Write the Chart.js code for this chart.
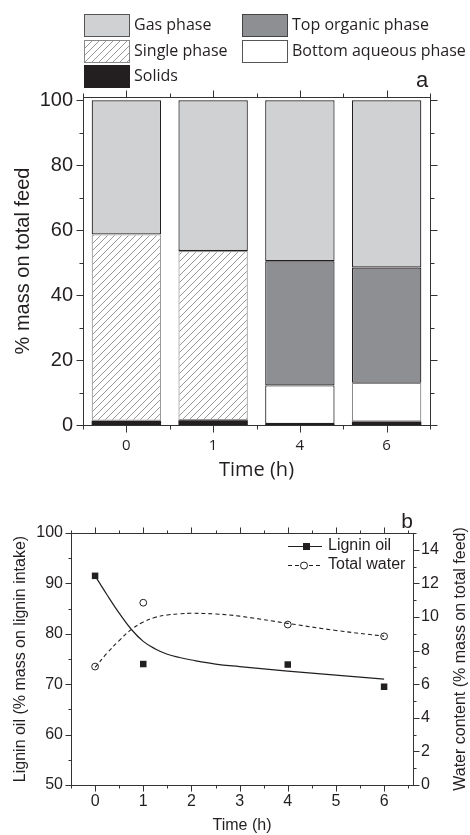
<!DOCTYPE html>
<html><head><meta charset="utf-8">
<script src="https://cdn.jsdelivr.net/npm/chart.js@4"></script>
<style>
html,body{margin:0;padding:0;background:#fff;width:470px;height:835px;overflow:hidden}
#c1{position:absolute;left:0;top:0}
#c2{position:absolute;left:0;top:480px}
</style></head><body>
<canvas id="c1" width="470" height="480"></canvas>
<canvas id="c2" width="470" height="355"></canvas>
<script>
// ---------- Panel a data ----------
const timeCategories = ['0', '1', '4', '6'];
const solids        = [1.3, 1.5, 0.3, 1.1];
const singlePhase   = [57.4, 52.1, null, null];
const bottomAqueous = [null, null, 11.9, 11.9];
const topOrganic    = [null, null, 38.2, 35.5];
const gasPhase      = [41.3, 46.4, 49.6, 51.5];
const yTicksA       = [0, 20, 40, 60, 80, 100];

// ---------- Panel b data ----------
const timeB       = [0, 1, 4, 6];
const ligninOil   = [91.5, 74.0, 73.9, 69.5];
const totalWater  = [7.05, 10.85, 9.55, 8.85];
const fitTime     = [0, 0.25, 0.5, 0.75, 1, 1.25, 1.5, 1.75, 2, 2.5, 3, 4, 5, 6];
const ligninFit   = [91.5, 87.7, 84.1, 80.9, 78.5, 77.0, 75.95, 75.3, 74.8, 74.0, 73.5, 72.6, 71.8, 71.0];
const waterFit    = [7.0, 7.85, 8.6, 9.25, 9.7, 9.98, 10.12, 10.19, 10.22, 10.18, 10.05, 9.62, 9.2, 8.86];
const xTicksB     = [0, 1, 2, 3, 4, 5, 6];
const yTicksBLeft = [50, 60, 70, 80, 90, 100];
const yTicksBRight= [0, 2, 4, 6, 8, 10, 12, 14];

const INK = '#231f20';
const GAS = '#d0d1d3';
const ORG = '#8e8f92';

function makeHatch(ctx){
  const p = document.createElement('canvas'); p.width = 7; p.height = 7;
  const g = p.getContext('2d');
  g.fillStyle = '#fff'; g.fillRect(0,0,7,7);
  g.strokeStyle = '#8c8c8c'; g.lineWidth = 0.9;
  g.beginPath();
  g.moveTo(-1,8); g.lineTo(8,-1);
  g.moveTo(-1,1); g.lineTo(1,-1);
  g.moveTo(6,8); g.lineTo(8,6);
  g.stroke();
  return ctx.createPattern(p,'repeat');
}
const ctx1 = document.getElementById('c1').getContext('2d');
const HATCH = makeHatch(ctx1);

function seg(ctx,x1,y1,x2,y2){ctx.beginPath();ctx.moveTo(x1,y1);ctx.lineTo(x2,y2);ctx.stroke();}

const frameA = {
  id:'frameA',
  afterDraw(chart){
    const {ctx, chartArea:a, scales:{x,y}} = chart;
    ctx.save();
    ctx.strokeStyle = '#333'; ctx.lineWidth = 1;
    const L = Math.round(a.left)+0.5, R = Math.round(a.right)+0.5, T = Math.round(a.top)+0.5, B = Math.round(a.bottom)+0.5;
    ctx.strokeRect(L, T, R-L, B-T);
    for (let i=0;i<yTicksA.length;i++){
      const v = yTicksA[i];
      const py = Math.round(y.getPixelForValue(v))+0.5;
      seg(ctx,L-7,py,L,py); seg(ctx,R,py,R+7,py);
      if (i<yTicksA.length-1){
        const m = (v+yTicksA[i+1])/2;
        const pm = Math.round(y.getPixelForValue(m))+0.5;
        seg(ctx,L-4,pm,L,pm); seg(ctx,R,pm,R+4,pm);
      }
    }
    const n = timeCategories.length;
    for (let i=0;i<n;i++){
      const px = Math.round(x.getPixelForValue(i))+0.5;
      seg(ctx,px,B,px,B+7); seg(ctx,px,T-7,px,T);
    }
    for (let i=0;i<=n;i++){
      const px = Math.round(x.getPixelForValue(i-0.5))+0.5;
      seg(ctx,px,B,px,B+4); seg(ctx,px,T-4,px,T);
    }
    ctx.fillStyle = INK; ctx.font = '22px "Liberation Sans", Arial'; ctx.textAlign='center'; ctx.textBaseline='middle';
    ctx.fillText('a', 422, 81);
    ctx.restore();
  }
};
const legendA = {
  id:'legendA',
  afterDraw(chart){
    const ctx = chart.ctx;
    const items = [
      {t:'Gas phase', fill:GAS, stroke:'#555', x:84, y:14},
      {t:'Single phase', fill:HATCH, stroke:'#888', x:84, y:40},
      {t:'Solids', fill:INK, stroke:INK, x:84, y:65},
      {t:'Top organic phase', fill:ORG, stroke:'#444', x:242, y:14},
      {t:'Bottom aqueous phase', fill:'#fff', stroke:'#555', x:242, y:40}
    ];
    ctx.save();
    ctx.font = '16px "Open Sans"'; ctx.textBaseline='middle'; ctx.textAlign='left';
    for (const it of items){
      ctx.fillStyle = it.fill; ctx.fillRect(it.x, it.y, 45, 22);
      ctx.strokeStyle = it.stroke; ctx.lineWidth=1; ctx.strokeRect(it.x+0.5, it.y+0.5, 45, 22);
      ctx.fillStyle = INK; ctx.fillText(it.t, it.x+50, it.y+11);
    }
    ctx.restore();
  }
};

new Chart(ctx1, {
  type:'bar',
  data:{
    labels: timeCategories,
    datasets:[
      {label:'Solids', data:solids, backgroundColor:INK, borderColor:INK, borderWidth:0},
      {label:'Single phase', data:singlePhase, backgroundColor:HATCH, borderColor:'#9a9a9a', borderWidth:1.2},
      {label:'Bottom aqueous phase', data:bottomAqueous, backgroundColor:'#fff', borderColor:['#000','#000',INK,'#8a8a8a'], borderWidth:1.2},
      {label:'Top organic phase', data:topOrganic, backgroundColor:ORG, borderColor:['#000','#000',INK,INK], borderWidth:1.2},
      {label:'Gas phase', data:gasPhase, backgroundColor:GAS, borderColor:INK, borderWidth:1.2}
    ]
  },
  options:{
    responsive:false, animation:false,
    datasets:{bar:{barPercentage:0.8, categoryPercentage:1.0, borderSkipped:false}},
    layout:{padding:{top:97, right:40, left:0, bottom:0}},
    plugins:{legend:{display:false}, tooltip:{enabled:false}},
    scales:{
      x:{stacked:true,
        grid:{display:false, drawTicks:false}, border:{display:false},
        ticks:{font:{family:'Open Sans', size:15}, color:INK, padding:12},
        title:{display:true, text:'Time (h)', color:INK, font:{family:'Open Sans', size:20, lineHeight:1}, padding:{top:0,bottom:0}},
        afterFit(s){ s.height = 55; }
      },
      y:{stacked:true, min:0, max:101,
        afterBuildTicks(s){ s.ticks = yTicksA.map(v=>({value:v})); },
        grid:{display:false, drawTicks:false}, border:{display:false},
        ticks:{font:{family:'Liberation Sans', size:20}, color:INK, padding:10},
        title:{display:true, text:'% mass on total feed', color:INK, font:{family:'Liberation Sans', size:20, lineHeight:1}, padding:{top:13,bottom:0}},
        afterFit(s){ s.width = 83; }
      }
    }
  },
  plugins:[frameA, legendA]
});

const ctx2 = document.getElementById('c2').getContext('2d');
const frameB = {
  id:'frameB',
  afterDraw(chart){
    const {ctx, chartArea:a, scales:{x,y,y1}} = chart;
    ctx.save();
    ctx.strokeStyle = '#333'; ctx.lineWidth = 1;
    const L = Math.round(a.left)+0.5, R = Math.round(a.right)+0.5, T = Math.round(a.top)+0.5, B = Math.round(a.bottom)+0.5;
    ctx.strokeRect(L, T, R-L, B-T);
    for (let i=0;i<yTicksBLeft.length;i++){
      const v = yTicksBLeft[i];
      const py = Math.round(y.getPixelForValue(v))+0.5;
      seg(ctx,L-6,py,L,py);
      if (i<yTicksBLeft.length-1){
        const pm = Math.round(y.getPixelForValue((v+yTicksBLeft[i+1])/2))+0.5;
        seg(ctx,L-3,pm,L,pm);
      }
    }
    for (let i=0;i<yTicksBRight.length;i++){
      const v = yTicksBRight[i];
      const py = Math.round(y1.getPixelForValue(v))+0.5;
      seg(ctx,R,py,R+6,py);
      const pm = Math.round(y1.getPixelForValue(v+1))+0.5;
      seg(ctx,R,pm,R+3,pm);
    }
    for (let i=0;i<xTicksB.length;i++){
      const v = xTicksB[i];
      const px = Math.round(x.getPixelForValue(v))+0.5;
      seg(ctx,px,B,px,B+6); seg(ctx,px,T-6,px,T);
      for (const m of [v-0.5, v+0.5]){
        if (i>0 && m===v-0.5) continue;
        const pm = Math.round(x.getPixelForValue(m))+0.5;
        seg(ctx,pm,B,pm,B+3); seg(ctx,pm,T-3,pm,T);
      }
    }
    ctx.fillStyle = INK; ctx.font = '16px "Liberation Sans", Arial';
    ctx.textAlign='center'; ctx.textBaseline='middle';
    ctx.translate(461, (a.top+a.bottom)/2); ctx.rotate(-Math.PI/2);
    ctx.fillText('Water content (% mass on total feed)', 0, 0);
    ctx.restore();
    ctx.save();
    ctx.fillStyle = INK; ctx.font = '21px "Liberation Sans", Arial'; ctx.textAlign='center'; ctx.textBaseline='middle';
    ctx.fillText('b', 407, 42);
    ctx.font = '16px "Liberation Sans", Arial'; ctx.textAlign='left';
    ctx.strokeStyle = INK; ctx.lineWidth = 1.2;
    seg(ctx, 288, 66.5, 322, 66.5);
    ctx.fillStyle = INK; ctx.fillRect(303, 63, 7, 7);
    ctx.fillText('Lignin oil', 328, 66);
    ctx.setLineDash([4,3]);
    seg(ctx, 288, 85.5, 299, 85.5); seg(ctx, 309, 85.5, 322, 85.5);
    ctx.setLineDash([]);
    ctx.beginPath(); ctx.arc(304, 85.5, 3.5, 0, Math.PI*2); ctx.fillStyle='#fff'; ctx.fill(); ctx.lineWidth=1; ctx.stroke();
    ctx.fillStyle = INK; ctx.fillText('Total water', 328, 85);
    ctx.restore();
  }
};

new Chart(ctx2, {
  type:'line',
  data:{
    datasets:[
      {label:'Lignin oil fit', data:fitTime.map((t,i)=>({x:t,y:ligninFit[i]})), yAxisID:'y',
       borderColor:INK, borderWidth:1.2, pointRadius:0, tension:0.4, fill:false},
      {label:'Total water fit', data:fitTime.map((t,i)=>({x:t,y:waterFit[i]})), yAxisID:'y1',
       borderColor:INK, borderWidth:1.1, borderDash:[4,3], pointRadius:0, tension:0.4, fill:false},
      {label:'Lignin oil', data:timeB.map((t,i)=>({x:t,y:ligninOil[i]})), yAxisID:'y', showLine:false,
       pointStyle:'rect', pointRadius:4.6, pointBackgroundColor:INK, pointBorderColor:INK, pointBorderWidth:0},
      {label:'Total water', data:timeB.map((t,i)=>({x:t,y:totalWater[i]})), yAxisID:'y1', showLine:false,
       pointStyle:'circle', pointRadius:3.4, pointBackgroundColor:'#fff', pointBorderColor:INK, pointBorderWidth:1}
    ]
  },
  options:{
    responsive:false, animation:false,
    layout:{padding:{top:53, right:0, left:0, bottom:0}},
    plugins:{legend:{display:false}, tooltip:{enabled:false}},
    scales:{
      x:{type:'linear', min:-0.5, max:6.6,
        afterBuildTicks(s){ s.ticks = xTicksB.map(v=>({value:v})); },
        grid:{display:false, drawTicks:false}, border:{display:false},
        ticks:{font:{family:'Liberation Sans', size:16}, color:INK, padding:7},
        title:{display:true, text:'Time (h)', color:INK, font:{family:'Liberation Sans', size:16, lineHeight:1}, padding:{top:0,bottom:1}},
        afterFit(s){ s.height = 50; }
      },
      y:{position:'left', min:50, max:100,
        afterBuildTicks(s){ s.ticks = yTicksBLeft.map(v=>({value:v})); },
        grid:{display:false, drawTicks:false}, border:{display:false},
        ticks:{font:{family:'Liberation Sans', size:16}, color:INK, padding:8},
        title:{display:true, text:'Lignin oil (% mass on lignin intake)', color:INK, font:{family:'Liberation Sans', size:16, lineHeight:1}, padding:{top:13,bottom:0}},
        afterFit(s){ s.width = 71; }
      },
      y1:{position:'right', min:0, max:15,
        afterBuildTicks(s){ s.ticks = yTicksBRight.map(v=>({value:v})); },
        grid:{display:false, drawTicks:false}, border:{display:false},
        ticks:{font:{family:'Liberation Sans', size:16}, color:INK, padding:8},
        afterFit(s){ s.width = 57; }
      }
    }
  },
  plugins:[frameB]
});
</script>
</body></html>
